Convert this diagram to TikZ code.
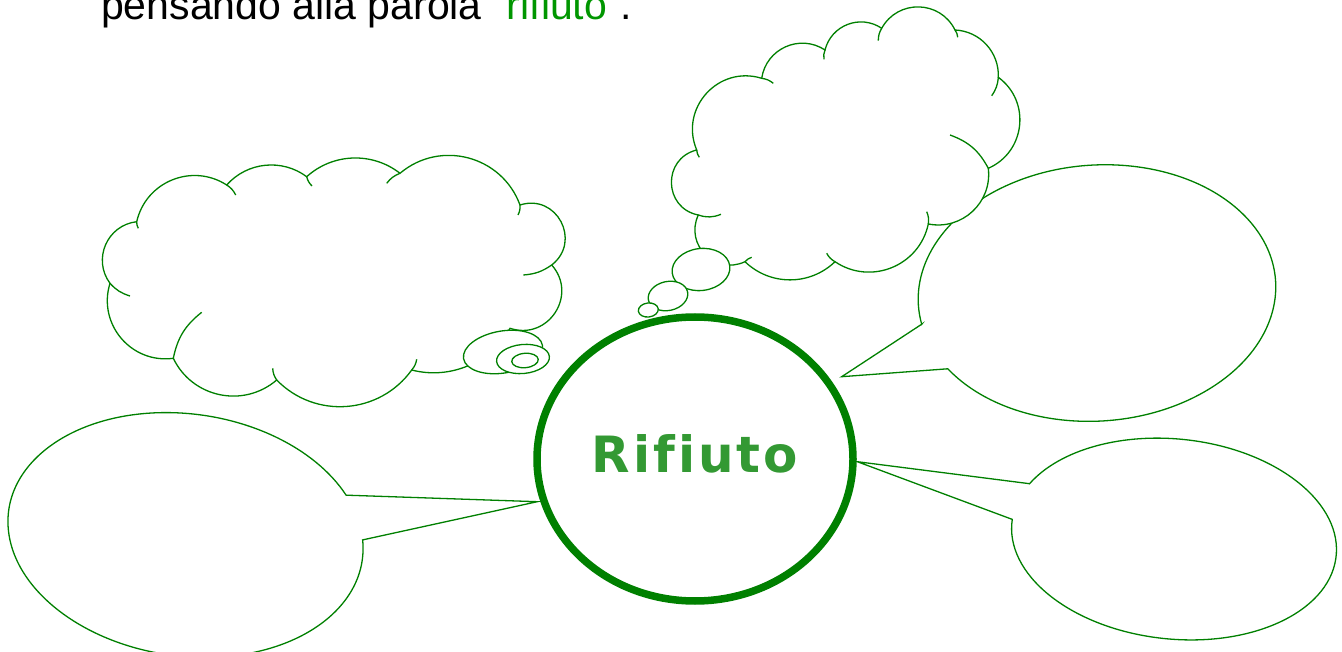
\documentclass[tikz,border=0pt]{standalone}
\usepackage{fontspec}
\setmainfont{Liberation Sans}[Ligatures={TeX,NoCommon}]
\newfontfamily\rifont{DejaVu Sans}[Ligatures=NoCommon]
\usetikzlibrary{calc,shapes.geometric}
\definecolor{lineGreen}{RGB}{0,128,0}
\definecolor{wordGreen}{RGB}{51,153,51}
\definecolor{introGreen}{RGB}{0,150,0}

\tikzset{
  cloudline/.style={draw=lineGreen, line width=1.3pt, fill=white},
  % one round puff of a cloud, #1 = how far it turns
  puff/.style={to path={.. controls ($(\tikztostart)!4/3*tan(#1/4)/(2*sin(#1/2))!#1/2:(\tikztotarget)$)
    and ($(\tikztotarget)!4/3*tan(#1/4)/(2*sin(#1/2))!-#1/2:(\tikztostart)$) .. (\tikztotarget)}},
}

\begin{document}
\begin{tikzpicture}[x=1pt, y=-1pt]
\useasboundingbox (0,0) rectangle (1342,652);

% intro line, cut by the top edge
\node[anchor=base west, inner sep=0pt, font=\fontsize{41}{49}\selectfont] (intro) at (101,20)
  {pensando alla parola "\textcolor{introGreen}{rifiuto}".};

% tips of the speech bubbles
\coordinate (tipR) at (841.7,376.7);
\coordinate (tipL) at (537.3,501.7);
\coordinate (tipB) at (857.3,461.7);

% speech bubble top right
\begin{scope}[shift={(1097,293)}, rotate=4]
  \filldraw[cloudline] (-177.0,18.9) -- (tipR) -- (-154.1,65.2)
    arc[start angle=149.4, end angle=-188.5, x radius=179, y radius=128] -- cycle;
\end{scope}

% speech bubble bottom left
\begin{scope}[shift={(185.5,535)}, rotate=-8]
  \filldraw[cloudline] (153.5,-61.8) -- (tipL) -- (176.1,-19.8)
    arc[start angle=-9.4, end angle=329.3, x radius=178.5, y radius=121] -- cycle;
\end{scope}

% speech bubble bottom right
\begin{scope}[shift={(1174,539)}, rotate=-6]
  \filldraw[cloudline] (-149.5,-39.9) -- (tipB) -- (-162.9,-2.6)
    arc[start angle=-178.5, end angle=-516.5, x radius=163, y radius=100] -- cycle;
\end{scope}

% cloud on the left
\filldraw[cloudline] (110,283.3) to[puff=120] (136.7,221.7) to[puff=110] (226.7,185)
  to[puff=85] (306.7,176.7) to[puff=80] (400,173.3) to[puff=110] (520,205)
  to[puff=160] (551.7,265) to[puff=150] (510,328.3) to[puff=75] (411.7,370)
  to[puff=100] (276.7,380) to[puff=105] (173.3,358.3) to[puff=115] (110,283.3) -- cycle;
\draw[cloudline, fill=none]
  (136.7,221.7) to[bend right=15] (138.3,228.3)
  (226.7,185) to[bend left=15] (235.7,195)
  (306.7,176.7) to[bend right=15] (312,186)
  (400,173.3) to[bend right=15] (386.7,183.3)
  (520,205) to[bend left=15] (518,215)
  (551.7,265) to[bend left=15] (523.3,275)
  (416.7,359.3) to[bend left=15] (411.7,370)
  (276.7,380) to[bend left=15] (272.7,368.3)
  (173.3,358.3) to[bend left=20] (201.7,312.3)
  (110,283.3) to[bend right=15] (130,296);
\draw[cloudline, rotate around={9.6:(503,352)}] (503,352) ellipse[x radius=40, y radius=21];
\draw[cloudline, rotate around={5.4:(523,359)}] (523,359) ellipse[x radius=26.5, y radius=14.5];
\draw[cloudline, rotate around={5:(525,360.5)}] (525,360.5) ellipse[x radius=13.3, y radius=7.2];

% cloud on the top
\filldraw[cloudline] (698.3,215) to[puff=155] (696.7,150) to[puff=130] (761.7,78.3)
  to[puff=115] (825,50) to[puff=110] (881.7,28.3) to[puff=125] (955,30)
  to[puff=90] (998.3,77.3) to[puff=120] (988.3,168.3) to[puff=108] (928.3,224)
  to[puff=112] (835,261.7) to[puff=88] (745,261.7) to[puff=140] (698.3,215) -- cycle;
\draw[cloudline, fill=none]
  (696.7,150) to[bend right=15] (699.3,157.3)
  (761.7,78.3) to[bend left=15] (773.3,83.3)
  (825,50) to[bend right=15] (824,59.3)
  (881.7,28.3) to[bend right=15] (878.3,40.7)
  (955,30) to[bend left=15] (957.7,37.3)
  (998.3,77.3) to[bend left=15] (991.7,95.7)
  (988.3,168.3) to[bend right=21] (950,135)
  (926.7,211.7) to[bend left=15] (928.3,224)
  (835,261.7) to[bend left=15] (826.7,253.3)
  (745,261.7) to[bend left=15] (751.7,257.3)
  (698.3,215) to[bend right=20] (721,214.3);
\draw[cloudline, rotate around={6.9:(701,269.5)}] (701,269.5) ellipse[x radius=29, y radius=21];
\draw[cloudline, rotate around={11.9:(668,296)}] (668,296) ellipse[x radius=20, y radius=14.5];
\draw[cloudline, rotate around={6.8:(648.3,310)}] (648.3,310) ellipse[x radius=10, y radius=7];

% the word in the middle
\node[ellipse, draw=lineGreen, line width=7.5pt, minimum width=316pt, minimum height=284pt,
  inner sep=0pt, text=wordGreen, text height=27.4pt, text depth=0pt,
  font=\rifont\bfseries\fontsize{50}{60}\selectfont\addfontfeatures{LetterSpace=6}]
  (rif) at (695,459) {Rifiuto};
\end{tikzpicture}
\end{document}
